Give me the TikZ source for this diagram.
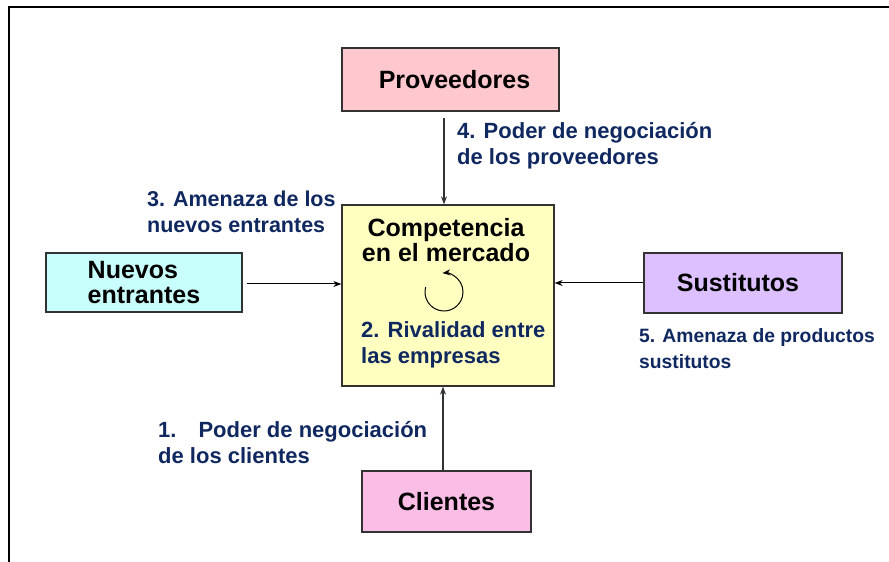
\documentclass[tikz,border=0pt]{standalone}
\usepackage{fontspec}
\setmainfont{Liberation Sans}
\usetikzlibrary{arrows.meta}
\definecolor{navy}{RGB}{16,40,96}
\definecolor{provfill}{RGB}{255,199,206}
\definecolor{nuevfill}{RGB}{200,255,252}
\definecolor{compfill}{RGB}{255,255,192}
\definecolor{sustfill}{RGB}{221,192,255}
\definecolor{cliefill}{RGB}{250,190,230}
\definecolor{edge}{RGB}{50,50,50}
\tikzset{
  forcebox/.style={draw=edge, line width=1.3pt, inner sep=0pt, align=left,
    font=\fontsize{25}{25}\selectfont\bfseries},
  lbl/.style={text=navy, anchor=base west, inner sep=0pt, align=left,
    font=\fontsize{22}{26}\selectfont\bfseries},
  arr/.style={line width=1pt, black, -{Stealth[length=8pt,width=6pt]}},
  vline/.style={line width=1.3pt, edge, -{Stealth[length=8pt,width=6pt]}},
}
\begin{document}
\begin{tikzpicture}[x=1pt,y=1pt]
\useasboundingbox (0,0) rectangle (889,562);
\fill[white] (0,0) rectangle (889,562);
% outer frame (runs off right and bottom)
\draw[line width=1.5pt, black] (9,-5) -- (9,555) -- (895,555);

% boxes
\node[forcebox, fill=provfill, minimum width=217pt, minimum height=63pt] (prov) at (450.5,482.5) {\hspace{8pt}Proveedores};
\node[forcebox, fill=compfill, minimum width=212pt, minimum height=181pt] (comp) at (448,266.5) {};
\node[forcebox, fill=nuevfill, minimum width=196pt, minimum height=59pt] (nuev) at (144,279.5) {Nuevos\\entrantes};
\node[forcebox, fill=sustfill, minimum width=198pt, minimum height=60pt] (sust) at (743,279) {\hspace{-10pt}Sustitutos};
\node[forcebox, fill=cliefill, minimum width=169pt, minimum height=61pt] (clie) at (446.5,60.5) {Clientes};

% central text (base anchor = baseline of last line)
\node[inner sep=0pt, anchor=base, align=center, font=\fontsize{25}{25}\selectfont\bfseries] (comptxt) at (446,300) {Competencia\\en el mercado};
\node[lbl] (rival) at (361,198) {2. Rivalidad entre\\las empresas};

% rivalry cycle
\coordinate (cyc) at (444,270);
\draw[line width=1pt, -{Stealth[length=8pt,width=6pt]}] (cyc) ++(165:19) arc[start angle=165, end angle=455, radius=19];

% labels
\node[lbl] (l4) at (457,397) {4. Poder de negociación\\de los proveedores};
\node[lbl, font=\fontsize{21.5}{26}\selectfont\bfseries] (l3) at (147,329) {3. Amenaza de los\\nuevos entrantes};
\node[lbl, font=\fontsize{19.3}{26}\selectfont\bfseries] (l5) at (639,193) {5. Amenaza de productos\\sustitutos};
\node[lbl] (l1) at (158,98) {1.\hspace{22pt}Poder de negociación\\de los clientes};

% connectors
\coordinate (ptop) at (444,444);
\draw[vline] (ptop) -- (ptop |- comp.north);
\draw[arr] ([xshift=4pt]nuev.east |- 0,278) -- (comp.west |- 0,278);
\draw[arr] (sust.west |- 0,279) -- (comp.east |- 0,279);
\coordinate (cbot) at (443,91);
\draw[vline] (cbot) -- (cbot |- comp.south);
\end{tikzpicture}
\end{document}
